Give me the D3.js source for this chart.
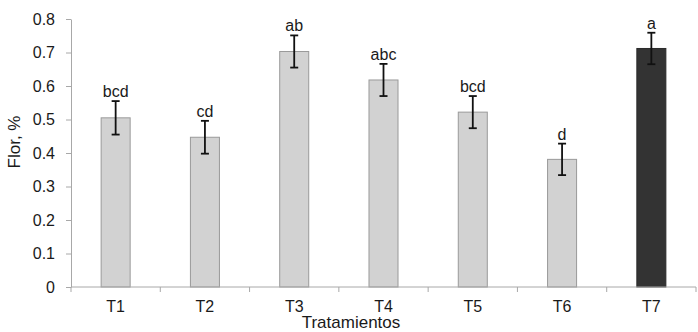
<!DOCTYPE html>
<html lang="es">
<head>
    <meta charset="UTF-8">
    <title>Flor por tratamiento</title>
    <script src="https://d3js.org/d3.v7.min.js"></script>
    <style>
        body { margin: 0; background: #fff; }
        svg { font-family: "Liberation Sans", Arial, sans-serif; display: block; }
        .axis path, .axis line { stroke: #a8a8a8; }
        .axis text { fill: #1a1a1a; font-size: 16px; }
    </style>
</head>
<body>
    <div id="chart"></div>
    <script>
        // datos
        const treatments = ["T1", "T2", "T3", "T4", "T5", "T6", "T7"];
        const means = [0.505, 0.447, 0.703, 0.618, 0.522, 0.381, 0.712];
        const errors = [0.050, 0.049, 0.048, 0.048, 0.048, 0.047, 0.047];
        const letters = ["bcd", "cd", "ab", "abc", "bcd", "d", "a"];
        const yTicks = [0, 0.1, 0.2, 0.3, 0.4, 0.5, 0.6, 0.7, 0.8];

        const W = 698, H = 332;
        const plotLeft = 71, plotRight = 696, plotTop = 19, plotBottom = 287;

        const data = treatments.map((t, i) => ({
            name: t, mean: means[i], err: errors[i], letter: letters[i]
        }));

        const svg = d3.select("#chart").append("svg")
            .attr("width", W)
            .attr("height", H);

        const x = d3.scaleBand()
            .domain(treatments)
            .range([plotLeft, plotRight])
            .paddingInner(0.675)
            .paddingOuter(0.3375);

        const y = d3.scaleLinear()
            .domain([0, 0.8])
            .range([plotBottom, plotTop]);

        // eje y
        svg.append("g")
            .attr("class", "axis")
            .attr("transform", `translate(${plotLeft},0)`)
            .call(d3.axisLeft(y).tickValues(yTicks).tickFormat(d3.format("~g"))
                .tickSizeInner(5).tickSizeOuter(0).tickPadding(11));

        // barras
        svg.selectAll(".bar")
            .data(data)
            .enter()
            .append("rect")
            .attr("class", "bar")
            .attr("x", d => x(d.name))
            .attr("width", x.bandwidth())
            .attr("y", d => y(d.mean))
            .attr("height", d => y(0) - y(d.mean))
            .attr("fill", d => d.name === "T7" ? "#333333" : "#d2d2d2")
            .attr("stroke", d => d.name === "T7" ? "#2a2a2a" : "#9a9a9a")
            .attr("stroke-width", 1);

        // eje x
        const xAxis = svg.append("g")
            .attr("class", "axis")
            .attr("transform", `translate(0,${plotBottom})`)
            .call(d3.axisBottom(x).tickSize(0).tickPadding(14));
        xAxis.select(".domain").attr("d", `M${plotLeft},0H${plotRight}`);

        // marcas entre categorias
        const bounds = treatments.map(t => x(t) - x.step() * x.paddingInner() / 2)
            .concat([plotRight]);
        svg.append("g")
            .selectAll("line")
            .data(bounds)
            .enter()
            .append("line")
            .attr("x1", d => d).attr("x2", d => d)
            .attr("y1", plotBottom).attr("y2", plotBottom + 5)
            .attr("stroke", "#a8a8a8");

        // barras de error
        const cap = 4;
        const eb = svg.selectAll(".err")
            .data(data)
            .enter()
            .append("g")
            .attr("class", "err")
            .attr("stroke", "#111")
            .attr("stroke-width", 1.8);
        eb.append("line")
            .attr("x1", d => x(d.name) + x.bandwidth() / 2)
            .attr("x2", d => x(d.name) + x.bandwidth() / 2)
            .attr("y1", d => y(d.mean + d.err))
            .attr("y2", d => y(d.mean - d.err));
        eb.append("line")
            .attr("x1", d => x(d.name) + x.bandwidth() / 2 - cap)
            .attr("x2", d => x(d.name) + x.bandwidth() / 2 + cap)
            .attr("y1", d => y(d.mean + d.err))
            .attr("y2", d => y(d.mean + d.err));
        eb.append("line")
            .attr("x1", d => x(d.name) + x.bandwidth() / 2 - cap)
            .attr("x2", d => x(d.name) + x.bandwidth() / 2 + cap)
            .attr("y1", d => y(d.mean - d.err))
            .attr("y2", d => y(d.mean - d.err));

        // letras de significancia
        svg.selectAll(".letter")
            .data(data)
            .enter()
            .append("text")
            .attr("class", "letter")
            .attr("x", d => x(d.name) + x.bandwidth() / 2)
            .attr("y", d => y(d.mean + d.err) - 4)
            .attr("text-anchor", "middle")
            .attr("font-size", 16)
            .attr("fill", "#1a1a1a")
            .text(d => d.letter);

        // titulos de ejes
        svg.append("text")
            .attr("x", 351)
            .attr("y", 328)
            .attr("text-anchor", "middle")
            .attr("font-size", 17)
            .attr("fill", "#1a1a1a")
            .text("Tratamientos");

        svg.append("text")
            .attr("transform", "translate(20,142) rotate(-90)")
            .attr("text-anchor", "middle")
            .attr("font-size", 17)
            .attr("fill", "#1a1a1a")
            .text("Flor, %");
    </script>
</body>
</html>
